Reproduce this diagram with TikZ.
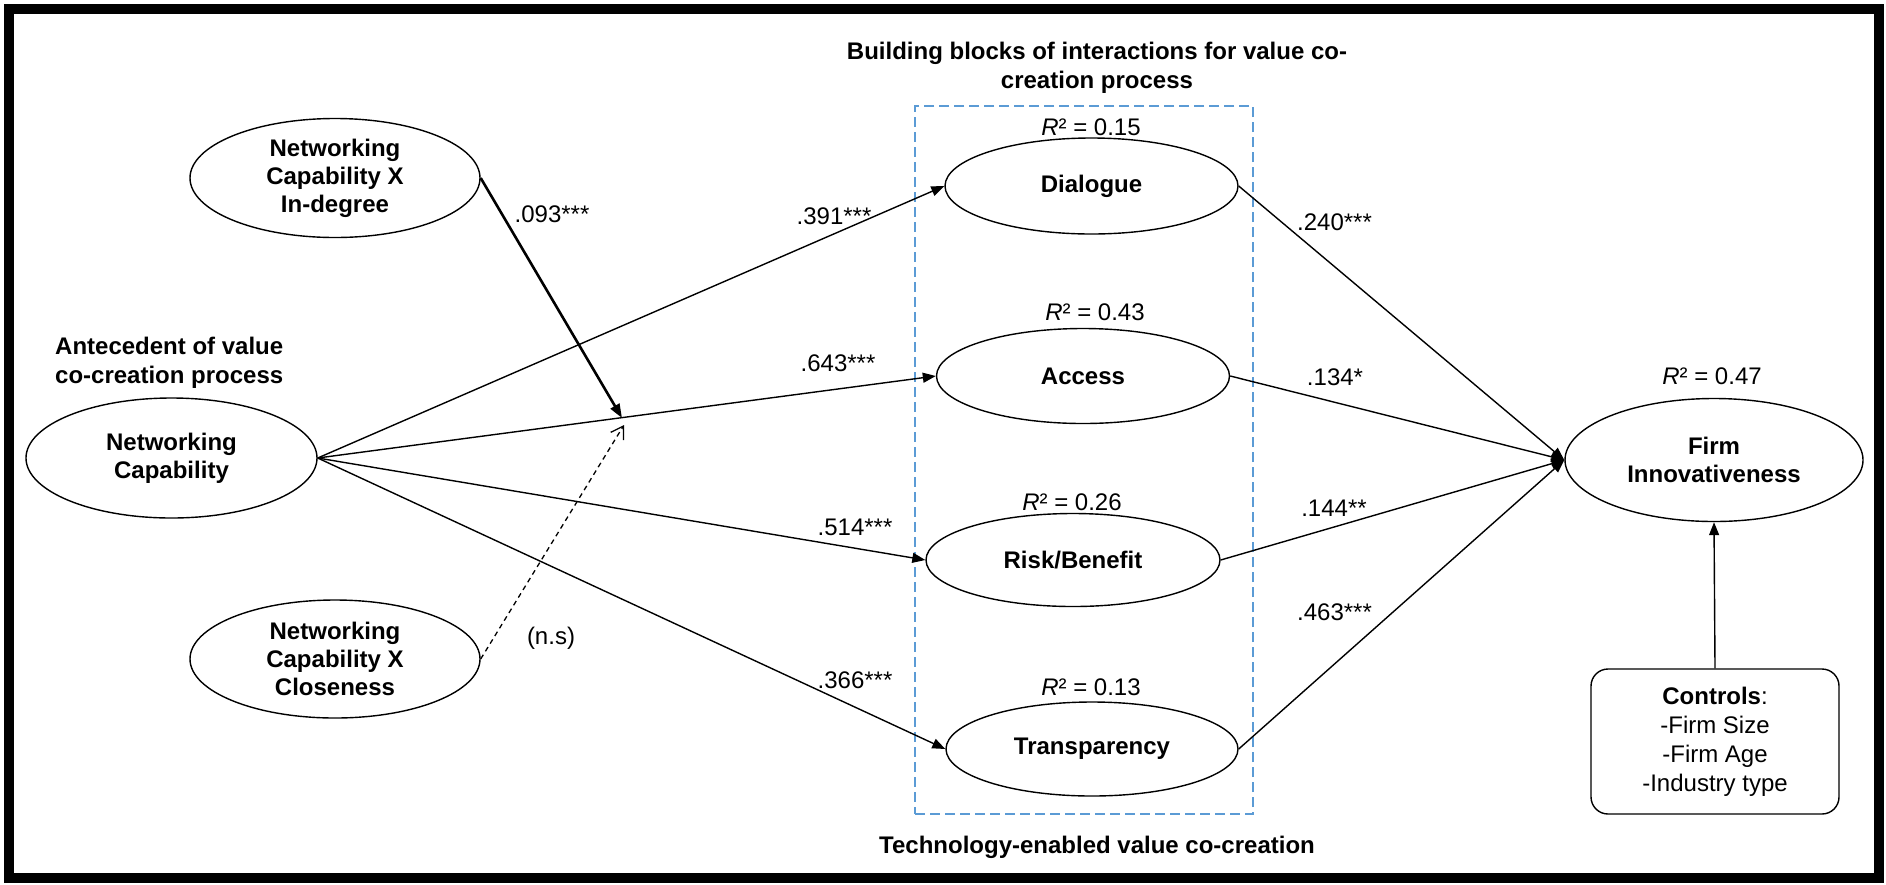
\documentclass[tikz,border=0pt]{standalone}
\usepackage{fontspec}
\setmainfont{Liberation Sans}
\usetikzlibrary{arrows.meta,shapes.geometric}
\definecolor{boxblue}{RGB}{91,155,213}
\begin{document}
\begin{tikzpicture}[x=1pt,y=-1pt,
  lat/.style={ellipse, draw, line width=1.4pt, inner sep=0pt, align=center,
              font=\bfseries\fontsize{24}{28}\selectfont},
  lbl/.style={font=\fontsize{24}{28}\selectfont, inner sep=0pt, anchor=base},
  ttl/.style={font=\bfseries\fontsize{24}{29}\selectfont, inner sep=0pt},
  arr/.style={line width=1.4pt, -{Triangle[length=13pt,width=10pt]}},
  modarr/.style={line width=2.6pt, -{Triangle[length=14pt,width=10pt]}},
  nsarr/.style={line width=1.3pt, dash pattern=on 5pt off 4pt,
                -{Straight Barb[length=12pt,width=15pt]}},
  grpbox/.style={draw=boxblue, line width=1.4pt, dash pattern=on 10pt off 5pt, inner sep=0pt},
  ctrlbox/.style={draw, rounded corners=17pt, line width=1.4pt, inner sep=0pt, align=center,
                  font=\fontsize{24}{29}\selectfont}
]
\useasboundingbox (0,0) rectangle (1886,884);
\draw[line width=10pt] (9,9) rectangle (1879,878);

% group box
\node[grpbox, minimum width=338pt, minimum height=708pt] (grp) at (1084,460) {};

% titles
\node[ttl, align=center] (t1) at (1097,67.5) {Building blocks of interactions for value co-\\creation process};
\node[ttl, align=left, anchor=west] (t2) at (55,363) {Antecedent of value\\co-creation process};
\node[ttl, anchor=base] (t3) at (1097,853.6) {Technology-enabled value co-creation};

% latent variables
\node[lat, minimum width=290pt, minimum height=119pt] (ncin) at (335,178) {Networking\\Capability X\\In-degree};
\node[lat, minimum width=291pt, minimum height=120pt] (nc) at (171.5,458) {Networking\\Capability};
\node[lat, minimum width=290pt, minimum height=118pt] (nccl) at (335,659) {Networking\\Capability X\\Closeness};
\node[lat, minimum width=293pt, minimum height=96pt] (dia) at (1091.5,186) {Dialogue};
\node[lat, minimum width=293pt, minimum height=95pt] (acc) at (1083,376) {Access};
\node[lat, minimum width=294pt, minimum height=93pt] (rb) at (1073,560) {Risk/Benefit};
\node[lat, minimum width=292pt, minimum height=94pt] (tra) at (1092,749) {Transparency};
\node[lat, minimum width=298pt, minimum height=123pt] (fi) at (1714,460) {Firm\\Innovativeness};
\node[ctrlbox, minimum width=248pt, minimum height=145pt] (ctrl) at (1715,741.5)
  {\textbf{Controls}:\\-Firm Size\\-Firm Age\\-Industry type};

% R2 labels
\node[lbl] (r1) at (1091,135) {\itshape R\upshape² = 0.15};
\node[lbl] (r2) at (1095,320.6) {\itshape R\upshape² = 0.43};
\node[lbl] (r3) at (1072,510.6) {\itshape R\upshape² = 0.26};
\node[lbl] (r4) at (1091,695.6) {\itshape R\upshape² = 0.13};
\node[lbl] (r5) at (1712,384.6) {\itshape R\upshape² = 0.47};

% junction points on the NC -> Access path
\coordinate (j1) at (622,418);
\coordinate (j2) at (624,425);

% paths
\draw[arr] (nc.east) -- (dia.west);
\draw[arr] (nc.east) -- (acc.west);
\draw[arr] (nc.east) -- (rb.west);
\draw[arr] (nc.east) -- (tra.west);
\draw[modarr] (ncin.east) -- (j1);
\draw[nsarr] (nccl.east) -- (j2);
\draw[arr] (dia.east) -- (fi.west);
\draw[arr] (acc.east) -- (fi.west);
\draw[arr] (rb.east) -- (fi.west);
\draw[arr] (tra.east) -- (fi.west);
\draw[arr] (ctrl.north) -- (fi.south);

% coefficient labels
\node[lbl] (c1) at (552,222) {.093***};
\node[lbl] (c2) at (834,224) {.391***};
\node[lbl] (c3) at (838,371) {.643***};
\node[lbl] (c4) at (855,535) {.514***};
\node[lbl] (c5) at (855,688) {.366***};
\node[lbl] (c6) at (551,644) {(n.s)};
\node[lbl] (c7) at (1334.5,230.6) {.240***};
\node[lbl] (c8) at (1335,385.6) {.134*};
\node[lbl] (c9) at (1334,516.6) {.144**};
\node[lbl] (c10) at (1334.5,620.6) {.463***};
\end{tikzpicture}
\end{document}
